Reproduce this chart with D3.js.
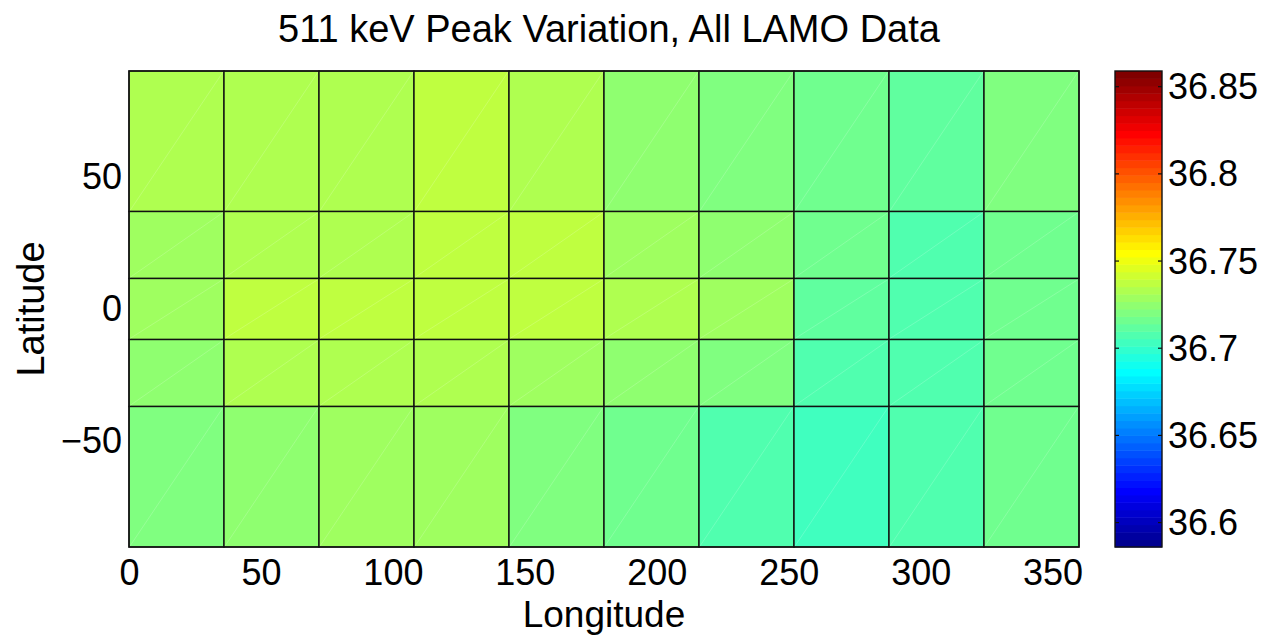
<!DOCTYPE html>
<html>
<head>
<meta charset="utf-8">
<script src="https://cdn.jsdelivr.net/npm/d3@7"></script>
<style>
    body { margin: 0; background: #fff; }
    text { font-family: "Liberation Sans", Arial, Helvetica, sans-serif; fill: #000; }
</style>
</head>
<body>
<div id="chart"></div>
<script>
// bin edges (longitude every 36 deg, latitude equal-area bins)
const lonEdges = [0, 36, 72, 108, 144, 180, 216, 252, 288, 324, 360];
const latEdges = [90, 36.87, 11.54, -11.54, -36.87, -90];

// mean 511 keV peak position per bin, rows from north to south
const row1 = [36.733, 36.733, 36.733, 36.737, 36.733, 36.725, 36.720, 36.716, 36.712, 36.720];
const row2 = [36.729, 36.733, 36.733, 36.737, 36.737, 36.729, 36.725, 36.716, 36.708, 36.716];
const row3 = [36.729, 36.737, 36.737, 36.737, 36.737, 36.733, 36.729, 36.712, 36.708, 36.716];
const row4 = [36.725, 36.733, 36.733, 36.733, 36.729, 36.725, 36.720, 36.708, 36.708, 36.716];
const row5 = [36.720, 36.725, 36.729, 36.729, 36.720, 36.716, 36.708, 36.703, 36.708, 36.716];
const rows = [row1, row2, row3, row4, row5];

const xTicks = [0, 50, 100, 150, 200, 250, 300, 350];
const yTicks = [50, 0, -50];
const cTicks = [36.6, 36.65, 36.7, 36.75, 36.8, 36.85];
const cRange = [36.586, 36.859];

const svgWidth = 1275, svgHeight = 637;
const plot = { left: 129, right: 1079, top: 71, bottom: 547 };
const cbar = { left: 1115, right: 1162 };

const svg = d3.select("#chart").append("svg")
    .attr("width", svgWidth)
    .attr("height", svgHeight);

const x = d3.scaleLinear().domain([0, 360]).range([plot.left, plot.right]);
const y = d3.scaleLinear().domain([-90, 90]).range([plot.bottom, plot.top]);
const cy = d3.scaleLinear().domain(cRange).range([plot.bottom, plot.top]);

// matlab style jet(64)
const nColors = 64;
const jetColors = d3.range(nColors).map(i => {
    const k = i + 1;
    const u = j => j <= 16 ? j / 16 : (j <= 31 ? 1 : (48 - j) / 16);
    const r = k >= 25 ? u(k - 24) : 0;
    const g = (k >= 9 && k <= 55) ? u(k - 8) : 0;
    const b = k <= 39 ? u(k + 8) : 0;
    return d3.rgb(Math.round(r * 255), Math.round(g * 255), Math.round(b * 255)).formatHex();
});
const color = d3.scaleQuantize().domain(cRange).range(jetColors);

const cells = [];
rows.forEach((row, j) => {
    row.forEach((v, i) => {
        cells.push({ lon0: lonEdges[i], lon1: lonEdges[i + 1], lat0: latEdges[j + 1], lat1: latEdges[j], value: v });
    });
});

svg.append("g").selectAll("rect")
    .data(cells)
    .enter().append("rect")
    .attr("x", d => x(d.lon0))
    .attr("y", d => y(d.lat1))
    .attr("width", d => x(d.lon1) - x(d.lon0))
    .attr("height", d => y(d.lat0) - y(d.lat1))
    .attr("fill", d => color(d.value))
    .attr("stroke", "#111")
    .attr("stroke-width", 1.4);

// faint triangle seams from the renderer
svg.append("g").selectAll("line")
    .data(cells)
    .enter().append("line")
    .attr("x1", d => x(d.lon0) + 1)
    .attr("y1", d => y(d.lat0) - 1)
    .attr("x2", d => x(d.lon1) - 1)
    .attr("y2", d => y(d.lat1) + 1)
    .attr("stroke", "#fff")
    .attr("stroke-opacity", 0.3)
    .attr("stroke-width", 0.6);

svg.append("rect")
    .attr("x", plot.left)
    .attr("y", plot.top)
    .attr("width", plot.right - plot.left)
    .attr("height", plot.bottom - plot.top)
    .attr("fill", "none")
    .attr("stroke", "#111")
    .attr("stroke-width", 1.4);

// axes labels
const xAxis = d3.axisBottom(x).tickValues(xTicks).tickSize(0).tickPadding(12);
const xg = svg.append("g")
    .attr("transform", `translate(0,${plot.bottom})`)
    .call(xAxis);
xg.select(".domain").remove();
xg.selectAll("text").attr("font-size", 36).attr("font-family", null);

const yAxis = d3.axisLeft(y).tickValues(yTicks).tickSize(0).tickPadding(7)
    .tickFormat(d => d < 0 ? "\u2212" + Math.abs(d) : d);
const yg = svg.append("g")
    .attr("transform", `translate(${plot.left},0)`)
    .call(yAxis);
yg.select(".domain").remove();
yg.selectAll("text").attr("font-size", 36).attr("font-family", null);

svg.append("text")
    .attr("x", 609)
    .attr("y", 42)
    .attr("text-anchor", "middle")
    .attr("font-size", 38)
    .text("511 keV Peak Variation, All LAMO Data");

svg.append("text")
    .attr("x", (plot.left + plot.right) / 2)
    .attr("y", 627)
    .attr("text-anchor", "middle")
    .attr("font-size", 37)
    .text("Longitude");

svg.append("text")
    .attr("transform", `translate(44,${(plot.top + plot.bottom) / 2}) rotate(-90)`)
    .attr("text-anchor", "middle")
    .attr("font-size", 38)
    .text("Latitude");

// colorbar
const step = (cRange[1] - cRange[0]) / nColors;
svg.append("g").selectAll("rect")
    .data(jetColors)
    .enter().append("rect")
    .attr("x", cbar.left)
    .attr("y", (d, i) => cy(cRange[0] + (i + 1) * step))
    .attr("width", cbar.right - cbar.left)
    .attr("height", (d, i) => cy(cRange[0] + i * step) - cy(cRange[0] + (i + 1) * step) + 0.5)
    .attr("fill", d => d);

svg.append("rect")
    .attr("x", cbar.left)
    .attr("y", plot.top)
    .attr("width", cbar.right - cbar.left)
    .attr("height", plot.bottom - plot.top)
    .attr("fill", "none")
    .attr("stroke", "#111")
    .attr("stroke-width", 1.4);

const cg = svg.append("g").selectAll("g")
    .data(cTicks)
    .enter().append("g")
    .attr("transform", d => `translate(0,${cy(d)})`);
cg.append("line")
    .attr("x1", cbar.left).attr("x2", cbar.left + 4)
    .attr("stroke", "#111").attr("stroke-width", 1.2);
cg.append("line")
    .attr("x1", cbar.right - 4).attr("x2", cbar.right)
    .attr("stroke", "#111").attr("stroke-width", 1.2);
cg.append("text")
    .attr("x", cbar.right + 6)
    .attr("dy", "0.35em")
    .attr("font-size", 36)
    .text(d => d);
</script>
</body>
</html>
